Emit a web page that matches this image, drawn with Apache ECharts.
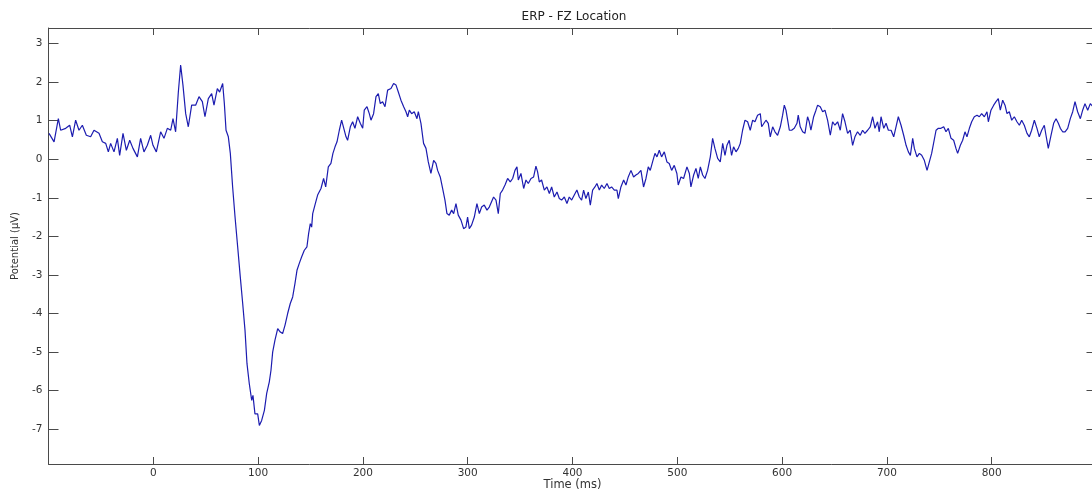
<!DOCTYPE html>
<html>
<head>
<meta charset="utf-8">
<script src="https://cdn.jsdelivr.net/npm/echarts@6/dist/echarts.min.js"></script>
<style>
html,body{margin:0;padding:0;background:#fff;}
#chart{width:1092px;height:492px;}
</style>
</head>
<body>
<div id="chart"></div>
<script>
// ---- data ----
const chartTitle = 'ERP - FZ Location';
const xAxisName = 'Time (ms)';
const yAxisName = 'Potential (\u00B5V)';
const xTickValues = [0, 100, 200, 300, 400, 500, 600, 700, 800];
const yTickValues = [-7, -6, -5, -4, -3, -2, -1, 0, 1, 2, 3];

const timeMs = [
-99.5,-94.7,-90.6,-88.4,-83.6,-79.8,-77.2,-74.1,-70.9,-67.7,-63.9,-59.8,-56.6,-51.8,-48.6,-45.4,-42.9,-40.7,-37.5,-34.3,-32.1,-28.9,-25.7,-22.5,-19.4,-15.2,-12.1,-8.9,-5.7,-2.5,-0.3,2.9,7.0,10.2,13.4,16.6,18.8,21.3,23.9,26.1,28.3,30.9,33.4,36.6,40.4,43.6,46.8,49.3,52.5,55.7,57.9,61.1,63.3,
64.6,66.2,67.8,69.4,71.6,73.5,75.7,78.0,80.5,83.0,85.3,87.5,89.4,91.6,93.9,95.1,97.0,99.6,101.2,103.4,106.0,108.2,110.7,112.3,113.9,116.1,118.7,121.2,123.4,125.7,128.2,130.7,133.0,135.2,137.1,139.3,141.6,144.1,146.6,148.2,149.8,151.1,152.1,154.6,156.8,
160.0,162.5,164.5,167.0,169.5,171.4,173.4,175.3,177.5,179.7,181.6,183.9,185.4,188.0,190.2,192.4,195.0,197.5,199.8,201.3,203.9,206.1,207.7,210.2,212.5,214.7,216.6,218.8,221.1,223.6,226.8,229.3,231.6,233.8,236.3,238.9,241.1,242.7,244.3,246.5,249.0,251.6,252.9,255.4,257.9,260.2,262.4,264.9,267.5,269.7,271.3,273.8,276.1,278.3,280.2,282.4,284.7,286.6,288.8,291.0,293.6,296.1,298.3,299.9,301.5,303.7,306.3,308.8,311.1,313.3,315.8,318.4,320.6,
322.2,324.7,327.0,329.2,331.1,333.3,335.6,338.1,340.6,342.9,345.1,347.0,348.3,350.8,353.4,355.6,357.8,360.4,362.9,365.1,366.7,368.3,370.5,373.1,375.6,377.9,380.1,382.6,385.2,387.4,389.6,392.2,394.7,396.9,399.2,401.7,404.2,406.5,408.7,410.6,412.8,415.1,417.0,419.2,421.4,423.3,425.6,427.8,430.3,432.9,435.1,437.3,439.9,442.4,443.7,446.2,448.8,451.0,453.2,455.8,458.3,460.5,462.8,465.3,467.8,470.1,472.3,474.2,476.4,478.7,480.6,482.8,485.0,487.6,490.1,492.3,494.6,497.1,499.6,500.9,
503.5,506.0,509.2,511.5,513.0,515.6,517.8,520.0,522.0,524.2,526.4,528.9,531.5,533.7,535.9,538.5,541.0,543.3,545.5,547.4,549.6,551.8,553.7,556.0,558.2,560.1,562.3,564.6,567.1,569.6,571.9,574.1,576.6,579.2,580.5,582.4,584.6,586.8,588.7,591.0,593.2,595.7,598.3,600.5,602.1,603.7,605.3,606.9,609.1,611.6,614.2,615.4,617.3,619.6,621.8,624.3,625.9,627.5,630.1,632.3,633.9,636.4,638.7,640.9,643.4,646.0,648.2,650.4,653.0,655.5,657.7,660.0,662.5,665.0,667.3,669.5,672.0,674.6,676.8,679.0,681.6,684.1,686.4,688.6,691.1,692.7,
694.4,697.0,699.2,701.4,704.0,706.5,708.7,710.9,713.5,716.0,718.3,720.5,722.4,724.6,726.2,728.7,731.0,733.2,735.7,738.3,740.5,742.7,744.6,746.9,749.1,751.6,754.2,756.4,758.6,761.2,763.7,765.9,767.5,770.1,772.3,774.5,776.4,778.7,780.9,783.4,786.0,788.2,790.4,793.0,795.5,796.8,799.3,801.9,804.1,806.3,808.2,810.5,812.7,814.6,816.8,819.1,821.6,824.1,826.4,828.6,831.1,833.7,835.9,838.1,840.7,843.2,845.4,847.7,850.2,851.8,854.0,856.6,859.1,861.4,863.6,865.5,867.7,870.0,872.5,875.0,877.3,879.5,882.0,884.6,886.8,889.0,891.6,894.1,896.6
];

const potentialUv = [
0.67,0.45,1.05,0.75,0.80,0.88,0.58,1.01,0.75,0.88,0.62,0.58,0.75,0.67,0.45,0.41,0.19,0.41,0.19,0.54,0.10,0.67,0.23,0.49,0.28,0.06,0.54,0.19,0.36,0.62,0.36,0.19,0.71,0.54,0.80,0.75,1.05,0.71,1.74,2.44,1.92,1.18,0.84,1.40,1.40,1.62,1.49,1.10,1.57,1.70,1.40,1.83,1.74,
1.79,1.96,1.44,0.75,0.58,0.15,-0.72,-1.50,-2.27,-3.05,-3.74,-4.43,-5.30,-5.82,-6.25,-6.12,-6.60,-6.60,-6.90,-6.77,-6.51,-6.07,-5.77,-5.47,-5.00,-4.69,-4.39,-4.48,-4.52,-4.30,-4.00,-3.74,-3.57,-3.22,-2.88,-2.70,-2.53,-2.36,-2.27,-1.93,-1.67,-1.76,-1.41,-1.15,-0.93,
-0.76,-0.50,-0.72,-0.20,-0.11,0.15,0.32,0.45,0.75,1.01,1.05,0.58,0.49,0.84,0.97,0.80,1.10,0.93,0.80,1.27,1.36,1.18,1.01,1.18,1.62,1.70,1.44,1.49,1.36,1.79,1.83,1.96,1.92,1.74,1.53,1.36,1.23,1.10,1.27,1.18,1.23,1.05,1.23,0.93,0.41,0.28,-0.07,-0.37,-0.03,-0.11,-0.29,-0.46,-0.76,-1.06,-1.41,-1.45,-1.32,-1.41,-1.15,-1.45,-1.58,-1.80,-1.76,-1.50,-1.80,-1.71,-1.50,-1.15,-1.41,-1.24,-1.19,-1.32,-1.24,
-1.28,-0.98,-1.06,-1.41,-0.89,-0.80,-0.67,-0.50,-0.59,-0.50,-0.29,-0.20,-0.54,-0.37,-0.76,-0.54,-0.63,-0.50,-0.46,-0.18,-0.33,-0.59,-0.54,-0.80,-0.72,-0.89,-0.72,-0.98,-0.85,-1.02,-1.06,-0.98,-1.15,-0.98,-1.06,-0.93,-0.80,-0.98,-1.06,-0.80,-1.02,-0.85,-1.19,-0.80,-0.72,-0.63,-0.80,-0.67,-0.76,-0.63,-0.76,-0.72,-0.80,-0.80,-1.02,-0.72,-0.54,-0.67,-0.46,-0.29,-0.46,-0.41,-0.37,-0.29,-0.72,-0.50,-0.20,-0.29,-0.07,0.15,0.06,0.23,0.06,0.19,-0.07,-0.11,-0.29,-0.16,-0.37,-0.67,
-0.46,-0.50,-0.20,-0.37,-0.72,-0.41,-0.24,-0.50,-0.20,-0.41,-0.50,-0.29,0.06,0.54,0.28,0.02,-0.07,0.41,0.10,0.36,0.49,0.10,0.32,0.19,0.28,0.41,0.75,1.01,0.97,0.75,1.01,0.97,1.14,1.18,0.84,0.84,1.01,0.93,0.58,0.84,0.71,0.62,0.84,1.14,1.40,1.27,1.01,0.75,0.75,0.80,0.93,1.14,0.84,0.71,0.67,1.10,0.97,0.75,1.10,1.27,1.40,1.36,1.23,1.27,1.01,0.62,0.97,0.88,0.97,0.75,1.18,0.97,0.67,0.75,0.36,0.58,0.71,0.62,0.75,0.67,0.75,0.84,1.10,0.80,0.97,0.71,
1.10,0.80,0.93,0.75,0.75,0.58,0.84,1.10,0.88,0.62,0.36,0.19,0.10,0.54,0.28,0.06,0.15,0.10,-0.03,-0.29,-0.07,0.15,0.19,0.75,0.80,0.80,0.84,0.71,0.80,0.54,0.49,0.28,0.15,0.36,0.49,0.71,0.58,0.80,0.97,1.10,1.14,1.10,1.18,1.10,1.23,0.97,1.27,1.40,1.49,1.57,1.27,1.53,1.40,1.18,1.23,1.01,1.10,0.97,0.88,1.01,0.88,0.67,0.58,0.75,1.01,0.80,0.58,0.75,0.88,0.62,0.28,0.62,0.93,1.05,0.93,0.80,0.71,0.71,0.80,1.05,1.23,1.49,1.23,1.05,1.27,1.44,1.27,1.44,1.36
];

// ---- chart ----
const seriesData = timeMs.map((t, i) => [t, potentialUv[i]]);
const FONT = 'DejaVu Sans, Liberation Sans, Arial, sans-serif';
const axisColor = '#4a4a4a';
const textColor = '#333';

const chart = echarts.init(document.getElementById('chart'), null, {renderer: 'canvas'});
chart.setOption({
  animation: false,
  backgroundColor: '#ffffff',
  title: {
    text: chartTitle,
    left: 569,
    textAlign: 'center',
    top: 6,
    textStyle: {fontFamily: FONT, fontSize: 12, fontWeight: 'normal', color: '#222'}
  },
  grid: {left: 48.5, top: 28, width: 1048, height: 436, outerBoundsMode: 'none', containLabel: false},
  xAxis: [{
    type: 'value', min: -100, max: 900, position: 'bottom',
    name: xAxisName, nameLocation: 'middle', nameGap: 15, nameMoveOverlap: false,
    nameTextStyle: {fontFamily: FONT, fontSize: 11.5, color: textColor, verticalAlign: 'top'},
    axisLine: {show: true, onZero: false, lineStyle: {color: axisColor, width: 1}},
    axisTick: {show: true, inside: true, length: 7, customValues: xTickValues, lineStyle: {color: axisColor}},
    axisLabel: {show: true, customValues: xTickValues, margin: 4, fontFamily: FONT, fontSize: 10.5, color: textColor},
    splitLine: {show: false}
  }, {
    type: 'value', min: -100, max: 900, position: 'top',
    axisLine: {show: true, onZero: false, lineStyle: {color: axisColor, width: 1}},
    axisTick: {show: true, inside: true, length: 7, customValues: xTickValues, lineStyle: {color: axisColor}},
    axisLabel: {show: false},
    splitLine: {show: false}
  }],
  yAxis: [{
    type: 'value', min: -7.9, max: 3.4, position: 'left',
    name: yAxisName, nameLocation: 'middle', nameGap: 28, nameRotate: 90,
    nameTextStyle: {fontFamily: FONT, fontSize: 10, color: textColor},
    axisLine: {show: true, onZero: false, lineStyle: {color: axisColor, width: 1}},
    axisTick: {show: true, inside: true, length: 10, customValues: yTickValues, lineStyle: {color: axisColor}},
    axisLabel: {show: true, customValues: yTickValues, margin: 6, fontFamily: FONT, fontSize: 10.5, color: textColor},
    splitLine: {show: false}
  }, {
    type: 'value', min: -7.9, max: 3.4, position: 'right',
    axisLine: {show: true, onZero: false, lineStyle: {color: axisColor, width: 1}},
    axisTick: {show: true, inside: true, length: 10, customValues: yTickValues, lineStyle: {color: axisColor}},
    axisLabel: {show: false},
    splitLine: {show: false}
  }],
  series: [{
    type: 'line',
    xAxisIndex: 0, yAxisIndex: 0,
    data: seriesData,
    showSymbol: false,
    symbol: 'none',
    lineStyle: {color: '#1c1cb0', width: 1.2},
    z: 3
  }]
});
</script>
</body>
</html>
